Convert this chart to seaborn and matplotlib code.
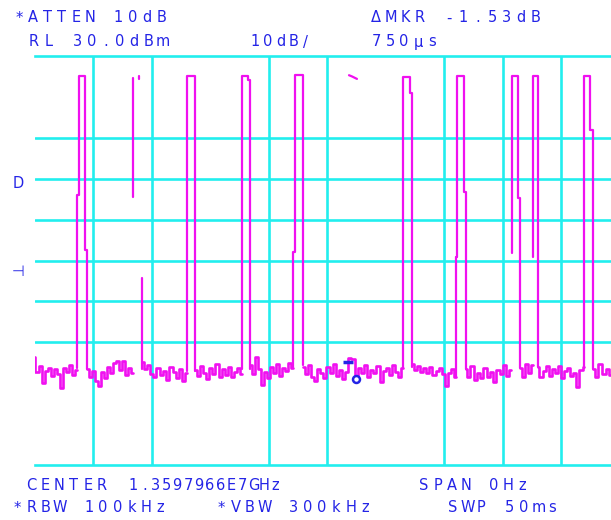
import numpy as np
import pandas as pd
import matplotlib
matplotlib.use("Agg")
import matplotlib.pyplot as plt
import seaborn as sns

# --- Screen colours ---
GRID_CYAN = "#22EEEE"
TRACE_MAGENTA = "#F010F0"
TEXT_BLUE = "#2424E6"

# --- Display settings (ms across, dBm up) ---
sweep_ms = 50.0
ref_level = 30.0
db_per_div = 10.0
grid_t = [5, 10, 20, 25, 35, 40, 45]
grid_db = [10, 0, -10, -20, -30, -40]

# --- Noise floor between bursts: (start ms, end ms) and levels in dBm ---
noise_spans = [
    (-0.05, 3.63), (4.49, 8.42), (9.19, 13.03), (13.72, 17.74), (18.42, 22.09),
    (22.95, 31.50), (32.27, 36.03), (36.85, 40.72), (41.50, 42.61),
    (43.03, 46.97), (47.72, 49.27),
]
noise_levels = [
    [-43.6, -47.3, -45.8, -50.0, -47.0, -46.3, -48.2, -46.5, -47.8, -51.2, -46.3, -47.3, -45.6, -48.0, -46.8],
    [-46.5, -48.5, -47.0, -49.5, -50.8, -47.2, -48.8, -46.0, -47.5, -45.0, -44.5, -46.8, -44.6, -47.9, -46.2, -47.5],
    [-44.8, -46.6, -45.5, -47.8, -48.6, -46.4, -48.0, -47.0, -49.2, -46.0, -47.3, -48.8, -46.5, -49.4, -47.6],
    [-46.8, -48.2, -45.8, -47.6, -49.0, -46.2, -47.8, -45.4, -48.4, -46.6, -47.9, -46.0, -48.6, -47.2, -46.4, -47.8],
    [-45.6, -47.8, -43.6, -46.5, -50.4, -47.2, -48.8, -46.0, -47.5, -45.2, -48.2, -46.4, -47.0, -45.0, -46.3],
    [-46.0, -47.8, -45.5, -48.6, -49.4, -46.6, -47.4, -48.8, -46.0, -47.6, -45.4, -48.2, -46.8, -49.0, -47.2, -43.8,
     -44.2, -48.9, -46.2, -47.6, -45.6, -48.4, -46.8, -47.4, -45.8, -49.6, -47.0, -46.2, -48.0, -45.6, -47.3, -48.6, -46.4],
    [-45.4, -46.8, -45.8, -47.2, -46.2, -47.6, -46.0, -48.0, -47.0, -46.4, -47.8, -50.6, -47.6, -46.6, -48.4],
    [-46.6, -48.4, -45.8, -49.2, -47.6, -48.8, -46.4, -48.6, -47.2, -49.6, -46.8, -47.8, -45.6, -48.2, -46.8],
    [-46.2, -48.6, -45.4, -47.4, -45.6],
    [-46.0, -48.6, -47.0, -45.8, -48.2, -46.6, -47.6, -45.8, -48.8, -47.0, -46.4, -48.2, -47.4, -51.0, -46.8, -46.0],
    [-46.6, -48.4, -45.4, -47.8, -46.6, -48.0],
]

# --- Burst outlines: time (ms) and level (dBm) of each vertex ---
burst_t = [
    [3.66, 3.66, 3.80, 3.80, 4.32, 4.32, 4.51, 4.51],
    [8.44, 8.44],
    [8.96, 8.96],
    [9.16, 9.16],
    [13.06, 13.06, 13.72, 13.72],
    [17.71, 17.71, 18.25, 18.25, 18.42, 18.42],
    [22.12, 22.12, 22.29, 22.29, 22.91, 22.91],
    [26.88, 27.14, 27.56],
    [31.52, 31.52, 32.09, 32.09, 32.27, 32.27],
    [36.03, 36.03, 36.14, 36.14, 36.71, 36.71, 36.85, 36.85],
    [40.79, 40.79, 41.35, 41.35, 41.50, 41.50],
    [42.63, 42.63, 43.06, 43.06],
    [46.97, 46.97, 47.48, 47.48, 47.71, 47.71],
]
burst_db = [
    [-46.3, -4.0, -4.0, 25.1, 25.1, -17.4, -17.4, -46.5],
    [24.6, -4.5],
    [25.2, 24.4],
    [-24.3, -46.5],
    [-47.0, 25.1, 25.1, -47.0],
    [-46.5, 25.1, 25.1, 24.1, 24.1, -46.5],
    [-46.0, -17.8, -17.8, 25.4, 25.4, -45.5],
    [25.3, 25.0, 24.4],
    [-46.4, 24.8, 24.8, 20.9, 20.9, -46.0],
    [-48.4, -19.1, -19.1, 25.1, 25.1, -3.2, -3.2, -46.6],
    [-18.2, 25.1, 25.1, -4.8, -4.8, -46.2],
    [-19.1, 25.1, 25.1, -46.0],
    [-46.0, 25.1, 25.1, 11.9, 11.9, -46.6],
]

# --- Marker symbols ---
marker_bar_t = [26.4, 27.2]
marker_bar_db = [-44.7, -44.7]
marker_dot_t = [27.48]
marker_dot_db = [-49.0]

# --- Annotation text: (x px, y px, text, character pitch px) ---
screen_text = [
    (12, 18, "*ATTEN 10dB", 14.2),
    (369, 18, "ΔMKR -1.53dB", 14.5),
    (27, 42, "RL 30.0dBm", 14.3),
    (249, 42, "10dB/", 12.6),
    (369, 42, "750μs", 14.0),
    (24, 485, "CENTER", 14.2),
    (128, 485, "1.3597966E7GHz", 10.9),
    (417, 485, "SPAN 0Hz", 14.0),
    (10, 508, "*RBW 100kHz", 14.3),
    (214, 508, "*VBW 300kHz", 14.4),
    (446, 508, "SWP 50ms", 14.2),
    (13, 183, "D", 11.0),
    (13, 272, "⊣", 11.0),
]

W, H = 611, 520

sns.set_theme(style="white")
plt.rcParams["font.family"] = ["DejaVu Sans", "DejaVu Sans Mono"]

fig = plt.figure(figsize=(W / 100, H / 100), dpi=100)
fig.patch.set_facecolor("white")
# screen grid: 10 divisions of 58.5 px, right edge runs past the picture
ax = fig.add_axes([34.5 / W, 55 / H, 585 / W, 409 / H])
ax.set_facecolor("white")

# noise segments
rows = []
for k, ((t0, t1), lv) in enumerate(zip(noise_spans, noise_levels)):
    for t, v in zip(np.linspace(t0, t1, len(lv)), lv):
        rows.append({"seg": k, "t": t, "dbm": v})
noise_df = pd.DataFrame(rows)

rows = []
for k, (ts, ds) in enumerate(zip(burst_t, burst_db)):
    for i, (t, v) in enumerate(zip(ts, ds)):
        rows.append({"seg": k, "order": i, "t": t, "dbm": v})
burst_df = pd.DataFrame(rows)

sns.lineplot(data=noise_df, x="t", y="dbm", units="seg", estimator=None, sort=False,
             color=TRACE_MAGENTA, lw=1.9, drawstyle="steps-mid", legend=False, ax=ax)
sns.lineplot(data=burst_df, x="t", y="dbm", units="seg", estimator=None, sort=False,
             color=TRACE_MAGENTA, lw=1.6, legend=False, ax=ax)

ax.plot(marker_bar_t, marker_bar_db, color=TEXT_BLUE, lw=2.5, solid_capstyle="butt")
ax.plot(marker_dot_t, marker_dot_db, "o", color=TEXT_BLUE, mfc="white", ms=5, mew=1.8)

ax.set_xlim(0, sweep_ms)
ax.set_ylim(ref_level - 10 * db_per_div, ref_level)
ax.set_xticks(grid_t)
ax.set_yticks(grid_db)
ax.grid(True, color=GRID_CYAN, lw=1.9)
ax.set_axisbelow(True)
ax.tick_params(length=0, labelbottom=False, labelleft=False)
ax.set_xlabel("")
ax.set_ylabel("")
for side in ["left", "right"]:
    ax.spines[side].set_visible(False)
for side in ["top", "bottom"]:
    ax.spines[side].set_color(GRID_CYAN)
    ax.spines[side].set_linewidth(1.9)

# character-cell text like the analyser screen
for x0, y0, s, pitch in screen_text:
    for i, ch in enumerate(s):
        if ch == " ":
            continue
        fig.text((x0 + (i + 0.5) * pitch) / W, 1 - y0 / H, ch, color=TEXT_BLUE,
                 fontsize=10.5, ha="center", va="center")

fig.savefig("out.png", dpi=100, facecolor="white")
